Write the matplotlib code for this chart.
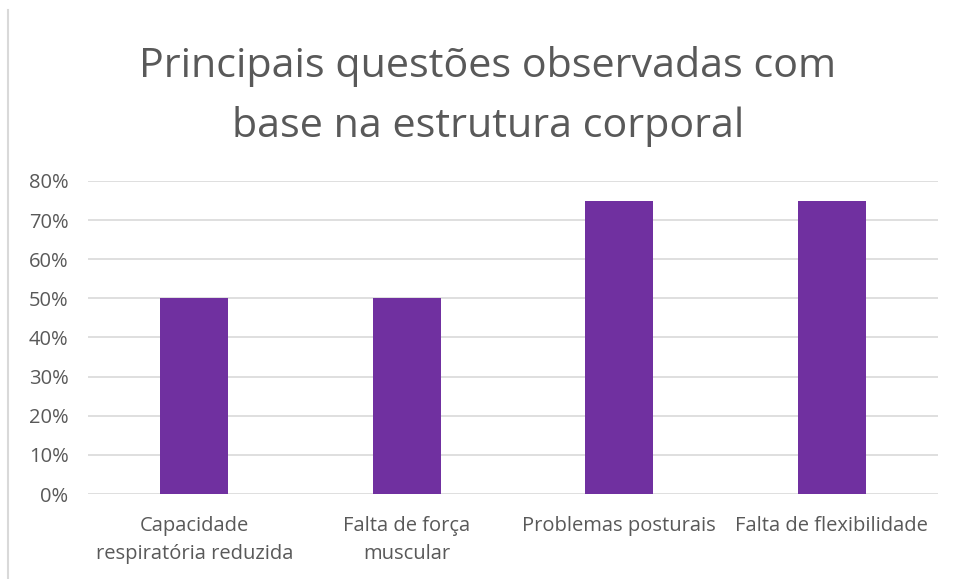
import matplotlib.pyplot as plt
from matplotlib.lines import Line2D

categories = ["Capacidade\nrespiratória reduzida", "Falta de força\nmuscular",
              "Problemas posturais", "Falta de flexibilidade"]
values = [0.50, 0.50, 0.75, 0.75]
yticks = [0, 0.1, 0.2, 0.3, 0.4, 0.5, 0.6, 0.7, 0.8]

plt.rcParams['font.family'] = ['Open Sans', 'DejaVu Sans']

fig = plt.figure(figsize=(9.55, 5.79), dpi=100)
ax = fig.add_axes([0.0921, 0.1468, 0.8901, 0.5406])

x = range(len(categories))
ax.bar(x, values, width=0.32, color="#7030A0", zorder=3)

ax.set_xlim(-0.5, 3.5)
ax.set_ylim(0, 0.8)
ax.set_yticks(yticks)
ax.set_yticklabels([f"{int(round(v * 100))}%" for v in yticks])
ax.set_xticks(list(x))
ax.set_xticklabels(categories, linespacing=1.55)
ax.yaxis.grid(True, color="#d9d9d9", linewidth=1.2, zorder=0)
for s in ax.spines.values():
    s.set_visible(False)
ax.tick_params(axis="both", length=0, colors="#595959", labelsize=14.5)
ax.tick_params(axis="y", pad=14)
ax.tick_params(axis="x", pad=16)

fig.text(0.511, 0.834, "Principais questões observadas com\nbase na estrutura corporal",
         ha="center", va="center", fontsize=29.7, color="#595959", linespacing=1.62)

# left border of chart area
fig.add_artist(Line2D([8 / 955, 8 / 955], [0, 1 - 10 / 579], color="#d9d9d9", linewidth=1.5))

fig.savefig("out.png", dpi=100)
